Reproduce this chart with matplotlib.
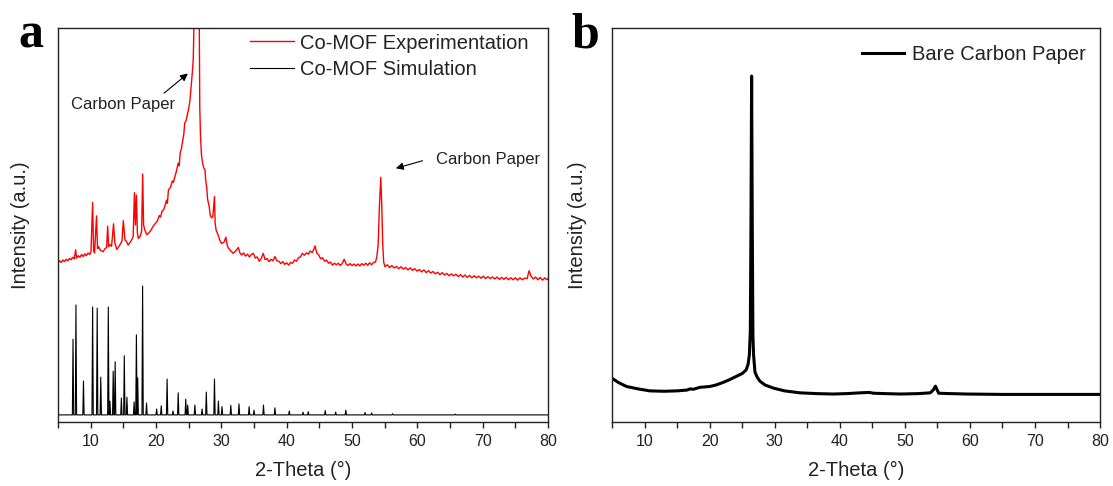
import numpy as np
import matplotlib
matplotlib.use("Agg")
import matplotlib.pyplot as plt

plt.rcParams['font.family'] = ['Liberation Sans', 'DejaVu Sans']

# ---- panel a: experimental Co-MOF pattern (red) ----
exp_x = [5.0, 5.25, 5.5, 5.75, 6.0, 6.25, 6.5, 6.75, 7.0, 7.25, 7.5, 7.7, 7.85, 8.1, 8.35,
         8.6, 8.85, 9.1, 9.35, 9.6, 9.85, 10.05,
         10.3, 10.45, 10.6, 10.9, 11.05, 11.2, 11.5, 11.9, 12.2, 12.45, 12.6, 12.75, 13.0,
         13.2, 13.5, 13.7, 14.0, 14.3, 14.6, 14.8, 15.0, 15.25, 15.5, 15.75, 16.0, 16.3,
         16.5, 16.7, 16.85, 17.0, 17.15, 17.3, 17.6, 17.8, 17.96, 18.1, 18.3, 18.6, 18.9,
         19.2, 19.5, 19.85, 20.2, 20.5, 20.7, 20.9, 21.2, 21.4, 21.6, 21.75, 21.9, 22.2,
         22.5, 22.65, 22.9, 23.1, 23.4, 23.55, 23.7, 23.9, 24.1, 24.25, 24.4, 24.6, 24.8,
         25.0, 25.2, 25.4, 25.55, 25.7, 25.85, 26.0, 26.25, 26.45, 26.6, 26.7, 26.8, 26.95,
         27.1, 27.3, 27.5, 27.6, 27.75, 27.9, 28.15, 28.3, 28.5, 28.7, 28.95, 29.05, 29.2,
         29.5, 29.8, 30.05, 30.4, 30.7, 30.9, 31.1, 31.4, 31.8, 32.2, 32.6, 32.85,
         33.1, 33.4, 33.7, 34.0, 34.3, 34.6, 34.9, 35.2, 35.5, 35.8, 36.1, 36.4, 36.7,
         37.0, 37.3, 37.6, 37.9, 38.2, 38.5, 38.8, 39.1, 39.4, 39.7, 40.0, 40.3, 40.6,
         40.9, 41.2, 41.5, 41.8, 42.1, 42.4, 42.7, 43.0, 43.3, 43.6, 43.9, 44.2, 44.35,
         44.6, 44.9, 45.2, 45.5, 45.8, 46.1, 46.4, 46.7, 47.0, 47.3, 47.6, 47.9, 48.2,
         48.5, 48.8, 49.1, 49.4, 49.7, 50.0, 50.3, 50.6, 50.9, 51.2, 51.5, 51.8, 52.1,
         52.4, 52.7, 53.0, 53.3, 53.6, 53.8, 54.0, 54.2, 54.4, 54.55, 54.7, 54.85,
         55.05, 55.4, 55.75, 56.1, 56.45, 56.8, 57.15, 57.5, 57.85, 58.2, 58.55, 58.9,
         59.25, 59.6, 59.95, 60.3, 60.65, 61.0, 61.35, 61.7, 62.05, 62.4, 62.75, 63.1,
         63.45, 63.8, 64.15, 64.5, 64.85, 65.2, 65.55, 65.9, 66.25, 66.6, 66.95, 67.3,
         67.65, 68.0, 68.35, 68.7, 69.05, 69.4, 69.75, 70.1, 70.45, 70.8, 71.15, 71.5,
         71.85, 72.2, 72.55, 72.9, 73.25, 73.6, 73.95, 74.3, 74.65, 75.0, 75.35, 75.7,
         76.05, 76.4, 76.8, 77.1, 77.4, 77.75, 78.1, 78.45, 78.8, 79.15, 79.5, 79.8, 80.0]
exp_y = [40.4, 40.9, 40.5, 41.1, 40.7, 41.3, 40.9, 41.5, 41.2, 41.8, 41.4, 43.7, 41.6, 42.2, 41.8,
         42.5, 42.0, 42.7, 42.2, 42.9, 42.5, 43.2,
         55.7, 43.5, 42.9, 52.3, 44.0, 44.5, 43.6, 43.2, 44.0, 44.3, 49.7, 44.5, 45.0,
         44.6, 50.3, 45.5, 43.8, 44.5, 45.3, 46.0, 51.1, 46.2, 45.8, 44.9, 45.5, 46.3,
         47.0, 58.2, 50.0, 57.6, 48.0, 46.6, 47.2, 48.5, 62.9, 50.0, 48.7, 47.5, 48.0,
         48.6, 49.5, 50.3, 51.0, 52.4, 52.0, 53.4, 54.0, 55.0, 56.3, 55.5, 58.9, 59.5,
         61.2, 60.8, 62.3, 63.5, 65.7, 65.0, 68.3, 69.5, 71.5, 73.0, 75.9, 76.5, 78.0,
         79.5, 81.7, 85.5, 88.5, 92.0, 104, 125, 132, 125, 108, 80, 73, 68,
         66.0, 64.5, 64.0, 61.5, 59.7, 56.5, 54.6, 52.5, 51.8, 52.1, 57.2, 50.5, 48.7,
         47.5, 46.0, 45.3, 45.6, 46.9, 44.8, 44.1, 43.5, 42.8, 43.4, 44.3, 42.9,
         42.4, 42.9, 42.1, 42.6, 41.9, 42.5, 42.8, 41.6, 41.9, 40.8, 41.5, 42.8, 41.2,
         41.5, 40.7, 41.3, 40.9, 42.0, 40.9, 40.8, 40.2, 40.7, 40.0, 40.4, 39.8, 40.5,
         40.3, 41.1, 40.8, 41.7, 41.9, 42.8, 42.3, 42.9, 42.6, 43.4, 43.0, 44.0, 44.7,
         42.9, 42.4, 41.4, 41.7, 40.8, 41.1, 40.3, 40.6, 39.8, 40.3, 39.9, 40.3, 39.7,
         40.2, 41.3, 40.1, 39.7, 40.2, 39.7, 40.1, 39.6, 40.1, 39.6, 40.2, 39.8, 40.3,
         39.8, 40.4, 39.9, 40.5, 40.6, 42.0, 45.0, 55.0, 62.1, 55.0, 45.0, 40.5,
         39.4, 39.9, 39.2, 39.7, 39.1, 39.5, 38.9, 39.4, 38.8, 39.2, 38.6, 39.1,
         38.5, 38.9, 38.3, 38.7, 38.1, 38.6, 37.9, 38.4, 37.8, 38.2, 37.6, 38.0,
         37.4, 37.9, 37.3, 37.7, 37.1, 37.6, 37.1, 37.5, 36.9, 37.4, 36.8, 37.3,
         36.7, 37.2, 36.6, 37.1, 36.6, 37.0, 36.5, 37.0, 36.4, 36.9, 36.4, 36.8,
         36.3, 36.8, 36.2, 36.7, 36.2, 36.7, 36.1, 36.6, 36.1, 36.6, 36.0, 36.6,
         36.1, 36.5, 36.4, 38.4, 37.0, 36.3, 36.8, 36.1, 36.7, 36.0, 36.6, 36.1, 36.4]

# ---- panel a: simulated Co-MOF pattern (black), peak positions / heights ----
sim_base = 1.8
sim_pos = [7.3, 7.75, 8.9, 10.3, 11.0, 11.55, 12.7, 12.95, 13.45, 13.75, 14.7, 15.15,
           15.55, 16.65, 17.0, 17.2, 17.95, 18.55, 20.1, 20.8, 21.7, 22.6, 23.4, 24.55,
           24.85, 25.95, 27.05, 27.7, 28.95, 29.55, 30.1, 31.45, 32.7, 34.25, 35.0, 36.45,
           38.2, 40.4, 42.5, 43.3, 45.9, 47.5, 49.05, 52.0, 53.0, 56.2, 65.8]
sim_height = [21.0, 29.7, 10.4, 29.2, 28.9, 11.4, 29.2, 5.3, 12.9, 15.3, 6.1, 16.8,
              6.3, 5.1, 22.1, 11.2, 34.5, 4.8, 3.3, 4.1, 10.9, 2.8, 7.4, 5.8,
              4.3, 4.3, 3.3, 7.6, 10.9, 5.3, 3.9, 4.2, 4.6, 3.9, 3.0, 4.3,
              3.6, 2.8, 2.5, 2.6, 2.9, 2.5, 3.0, 2.4, 2.3, 2.1, 2.0]

# ---- panel b: bare carbon paper ----
cp_x = [5.0, 6.0, 7.25, 9.0, 10.8, 13.0, 15.0, 16.5, 17.0, 17.5, 18.5, 20.0, 21.0,
        22.0, 23.0, 24.0, 25.0, 25.6, 25.9, 26.1, 26.25, 26.35, 26.45, 26.55, 26.65,
        26.75, 26.96, 27.3, 27.7, 28.5, 29.8, 31.5, 33.9, 36.5, 39.0, 41.0, 43.1, 44.5,
        45.2, 47.0, 49.3, 52.0, 53.9, 54.4, 54.7, 55.0, 55.2, 57.0, 59.5, 65.0, 69.8,
        75.0, 80.0]
cp_y = [11.1, 10.0, 9.0, 8.4, 7.9, 7.8, 7.9, 8.1, 8.4, 8.3, 8.8, 9.0, 9.4,
        10.0, 10.7, 11.5, 12.3, 13.2, 14.6, 17.0, 23.0, 50.0, 87.8, 50.0, 22.0,
        17.0, 12.7, 11.4, 10.4, 9.4, 8.6, 7.9, 7.4, 7.2, 7.1, 7.2, 7.4, 7.5,
        7.3, 7.2, 7.1, 7.2, 7.4, 8.2, 9.1, 8.0, 7.3, 7.2, 7.1, 7.0, 7.0,
        7.0, 7.0]

xticks = [10, 20, 30, 40, 50, 60, 70, 80]
minor_ticks = [5, 15, 25, 35, 45, 55, 65, 75]
txt = '#222222'

# simulated pattern as a line with narrow peaks on a flat baseline
pk_x, pk_y = [5.0], [sim_base]
for p, h in zip(sim_pos, sim_height):
    pk_x += [p - 0.1, p, p + 0.1]
    pk_y += [sim_base, h, sim_base]
pk_x.append(80.0)
pk_y.append(sim_base)

fig = plt.figure(figsize=(11.13, 4.86), dpi=100)
ax1 = fig.add_axes([0.0521, 0.1317, 0.4403, 0.8107])
ax2 = fig.add_axes([0.5499, 0.1317, 0.4385, 0.8107])

ax1.plot(exp_x, exp_y, color='#ff0000', lw=1.0, label='Co-MOF Experimentation')
ax1.plot(pk_x, pk_y, color='black', lw=0.8, label='Co-MOF Simulation')
ax2.plot(cp_x, cp_y, color='black', lw=2.2, label='Bare Carbon Paper')

# carbon paper annotations
ax1.annotate('', xy=(25.2, 88.9), xytext=(20.9, 83.0),
             arrowprops=dict(arrowstyle='-|>', color='black', lw=0.8, mutation_scale=11))
ax1.text(7.0, 80.5, 'Carbon Paper', fontsize=12, color=txt, va='center', ha='left')
ax1.annotate('', xy=(56.3, 64.2), xytext=(61.2, 66.5),
             arrowprops=dict(arrowstyle='-|>', color='black', lw=0.8, mutation_scale=11))
ax1.text(62.9, 66.5, 'Carbon Paper', fontsize=12, color=txt, va='center', ha='left')

for ax in (ax1, ax2):
    ax.set_xlim(5, 80)
    ax.set_ylim(0, 100)
    ax.set_yticks([])
    ax.set_xticks(xticks)
    ax.set_xticks(minor_ticks, minor=True)
    ax.tick_params(axis='x', which='both', direction='out', length=4, width=1,
                   color='#222222', labelsize=11.5, labelcolor=txt, pad=5)
    for s in ax.spines.values():
        s.set_color('#222222')
        s.set_linewidth(1.0)
    ax.set_xlabel('2-Theta (°)', fontsize=14.5, color=txt, labelpad=8)

ax1.set_ylabel('Intensity (a.u.)', fontsize=14.5, color=txt, labelpad=20)
ax2.set_ylabel('Intensity (a.u.)', fontsize=14.5, color=txt, labelpad=18)

leg1 = ax1.legend(loc='upper left', bbox_to_anchor=(0.392, 0.986), frameon=False,
                  fontsize=14.5, handlelength=2.2, handletextpad=0.3,
                  labelspacing=0.37, borderpad=0, borderaxespad=0)
for t in leg1.get_texts():
    t.set_color(txt)
leg2 = ax2.legend(loc='upper left', bbox_to_anchor=(0.512, 0.957), frameon=False,
                  fontsize=14.5, handlelength=2.1, handletextpad=0.4,
                  borderpad=0, borderaxespad=0)
for t in leg2.get_texts():
    t.set_color(txt)

fig.text(18 / 1113, 1 - 47 / 486, 'a', fontsize=36, fontweight='bold',
         family='Liberation Serif', va='baseline', ha='left')
fig.text(571 / 1113, 1 - 47 / 486, 'b', fontsize=36, fontweight='bold',
         family='Liberation Serif', va='baseline', ha='left')

fig.savefig('out.png', dpi=100)
